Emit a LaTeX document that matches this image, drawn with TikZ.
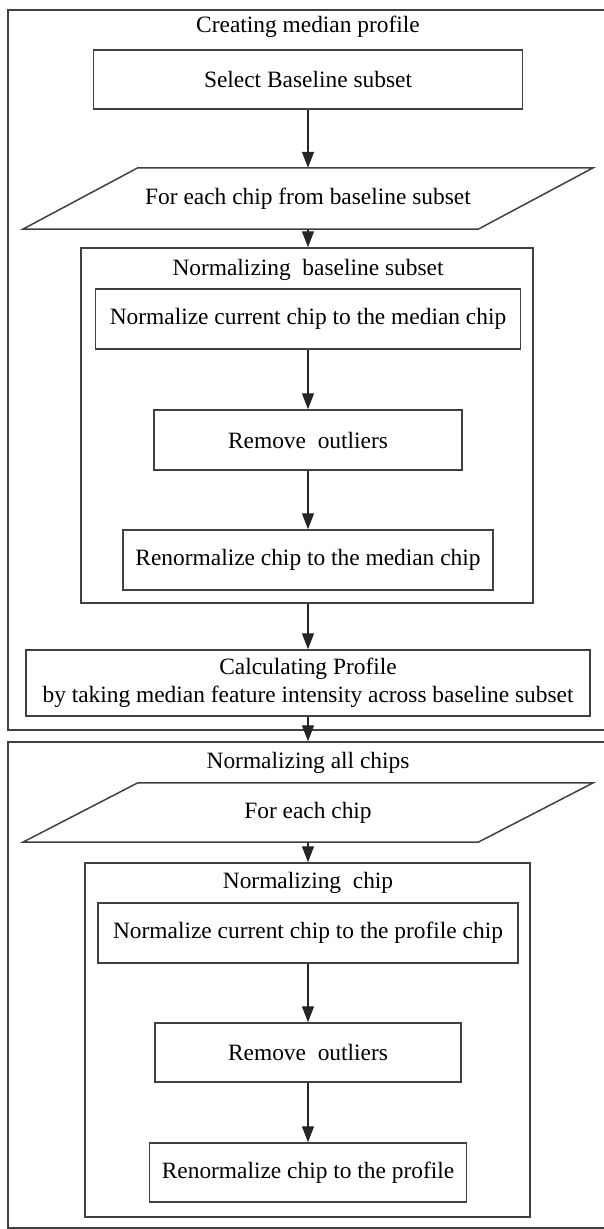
\documentclass[tikz,border=0pt]{standalone}
\usepackage{fontspec}
\setmainfont{Liberation Serif}
\usetikzlibrary{arrows.meta}
\begin{document}
\begin{tikzpicture}[x=1pt,y=-1pt,
 font=\fontsize{23.4}{28}\selectfont,
 every node/.style={inner sep=0pt},
 frame/.style={draw=black!75,line width=1.5pt},
 stepbox/.style={frame,align=center,minimum height=60pt},
 loopnode/.style={minimum width=455pt,minimum height=60pt},
 flow/.style={draw=black!85,line width=1.3pt,-{Triangle[length=16pt,width=12pt]}}]
\useasboundingbox (0,0) rectangle (604,1229);
\node[frame,minimum width=602pt,minimum height=720pt] (outA) at (309,370) {};
\node (titleA) at (308,27) {Creating median profile};
\node[stepbox,minimum width=429pt,minimum height=59pt] (select) at (308,79.5) {Select Baseline subset};
\node[loopnode,minimum height=61pt] (paraA) at (308,198.5) {For each chip from baseline subset};
\draw[frame] ([xshift=-57.5pt]paraA.south west) -- ([xshift=-57.5pt]paraA.south east)
 -- ([xshift=57.5pt]paraA.north east) -- ([xshift=57.5pt]paraA.north west) -- cycle;
\node[frame,minimum width=452pt,minimum height=355pt] (innA) at (307,425.5) {};
\node (titleB) at (308,270) {Normalizing~ baseline subset};
\node[stepbox,minimum width=425pt] (normA) at (308,319) {Normalize current chip to the median chip};
\node[stepbox,minimum width=308pt] (remA) at (308,440) {Remove~ outliers};
\node[stepbox,minimum width=370pt] (renA) at (308,560) {Renormalize chip to the median chip};
\node[stepbox,minimum width=564pt,minimum height=66pt] (calc) at (308,683) {Calculating Profile\\ by taking median feature intensity across baseline subset};
\node[frame,minimum width=602pt,minimum height=486pt] (outB) at (309,985) {};
\node (titleC) at (308,763) {Normalizing all chips};
\node[loopnode,minimum height=59pt] (paraB) at (308,812.5) {For each chip};
\draw[frame] ([xshift=-57.5pt]paraB.south west) -- ([xshift=-57.5pt]paraB.south east)
 -- ([xshift=57.5pt]paraB.north east) -- ([xshift=57.5pt]paraB.north west) -- cycle;
\node[frame,minimum width=445pt,minimum height=354pt] (innB) at (307.5,1040) {};
\node (titleD) at (308,883) {Normalizing~ chip};
\node[stepbox,minimum width=420pt] (normB) at (308,933) {Normalize current chip to the profile chip};
\node[stepbox,minimum width=306pt,minimum height=59pt] (remB) at (308,1052.5) {Remove~ outliers};
\node[stepbox,minimum width=317pt,minimum height=59pt] (renB) at (308,1172.5) {Renormalize chip to the profile};
\draw[flow] (select) -- (paraA);
\draw[flow] (paraA) -- (paraA.south |- innA.north);
\draw[flow] (normA) -- (remA);
\draw[flow] (remA) -- (renA);
\draw[flow] (calc.north |- innA.south) -- (calc);
\draw[flow] (calc) -- (calc.south |- outB.north);
\draw[flow] (paraB) -- (paraB.south |- innB.north);
\draw[flow] (normB) -- (remB);
\draw[flow] (remB) -- (renB);
\end{tikzpicture}
\end{document}
